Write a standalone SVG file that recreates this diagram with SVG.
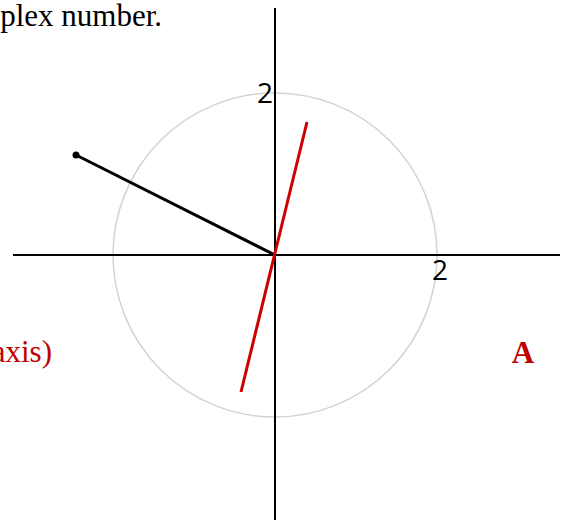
<svg xmlns="http://www.w3.org/2000/svg" width="565" height="522" viewBox="0 0 565 522">
<style>
.axis{stroke:#000;stroke-width:2;fill:none}
.circ{stroke:#d3d3d3;stroke-width:1.5;fill:none}
.vec{stroke:#000;stroke-width:3;fill:none;stroke-linecap:round}
.red{stroke:#cc0000;stroke-width:3;fill:none}
.tick{font-family:"Open Sans","DejaVu Sans",sans-serif;font-size:28px;fill:#000}
.serif{font-family:"Liberation Serif","Times New Roman",serif;font-size:31px}
</style>
<rect width="565" height="522" fill="#fff"/>
<g id="circle"><circle class="circ" cx="275" cy="255" r="162"/></g>
<g id="connectors">
<line class="axis" x1="275" y1="8" x2="275" y2="520"/>
<line class="axis" x1="13" y1="255" x2="560" y2="255"/>
<line class="vec" x1="76" y1="155" x2="275" y2="255"/>
<line class="red" x1="307" y1="122" x2="241" y2="392"/>
</g>
<g id="point"><circle cx="76" cy="155" r="3.5" fill="#000"/></g>
<g id="labels">
<text class="tick" x="265" y="103" text-anchor="middle">2</text>
<text class="tick" x="440" y="280" text-anchor="middle">2</text>
<text class="serif" x="162" y="26" text-anchor="end" fill="#000">plex number.</text>
<text class="serif" x="52" y="362" text-anchor="end" fill="#c00000">axis)</text>
<text class="serif" x="523" y="363" text-anchor="middle" font-weight="bold" fill="#c00000">A</text>
</g>
</svg>
